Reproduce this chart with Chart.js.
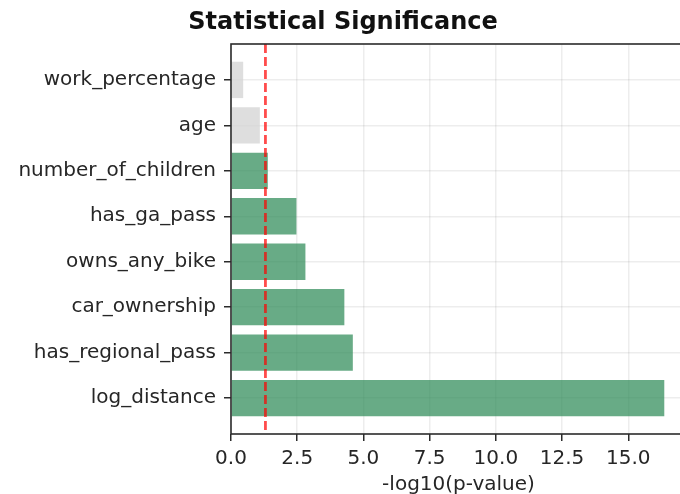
<!DOCTYPE html>
<html>
<head>
<meta charset="utf-8">
<script src="https://cdn.jsdelivr.net/npm/chart.js@4"></script>
<style>
  html, body { margin: 0; padding: 0; background: #fff; overflow: hidden; }
  #wrap { width: 700px; height: 494px; }
</style>
</head>
<body>
<div id="wrap"><canvas id="sigChart"></canvas></div>
<script>
// features, top to bottom
const features = ["work_percentage", "age", "number_of_children", "has_ga_pass",
  "owns_any_bike", "car_ownership", "has_regional_pass", "log_distance"]
// -log10(p-value) per feature
const negLogP = [0.46, 1.09, 1.39, 2.47, 2.81, 4.28, 4.60, 16.36]
const threshold = 1.30 // -log10(0.05)
const xTicks = [0, 2.5, 5, 7.5, 10, 12.5, 15]

const green = "rgba(46,139,87,0.72)"
const grey = "rgba(211,211,211,0.75)"

// spines + significance line
const frame = {
  id: "frame",
  afterDatasetsDraw(chart) {
    const { ctx, chartArea: a, scales } = chart
    const xp = scales.x.getPixelForValue(threshold)
    ctx.save()
    ctx.strokeStyle = "rgba(255,0,0,0.7)"
    ctx.lineWidth = 2.8
    ctx.setLineDash([9, 4])
    ctx.beginPath()
    ctx.moveTo(xp, a.top)
    ctx.lineTo(xp, a.bottom)
    ctx.stroke()
    ctx.restore()
  },
  afterDraw(chart) {
    const { ctx, chartArea: a } = chart
    ctx.save()
    ctx.strokeStyle = "#2b2b2b"
    ctx.lineWidth = 1.6
    ctx.strokeRect(a.left, a.top, a.right - a.left, a.bottom - a.top)
    ctx.restore()
  }
}

const gridOpts = { color: "rgba(0,0,0,0.07)", lineWidth: 1.5, tickColor: "#2b2b2b", tickLength: 7, tickWidth: 1.5, offset: false }

new Chart(document.getElementById("sigChart"), {
  type: "bar",
  data: {
    datasets: [{
      data: negLogP.map((v, i) => ({ x: v, y: i })),
      backgroundColor: negLogP.map(v => v > threshold ? green : grey),
      barPercentage: 1,
      categoryPercentage: 0.8
    }]
  },
  options: {
    indexAxis: "y",
    responsive: true,
    maintainAspectRatio: false,
    animation: false,
    layout: { padding: { left: 0, right: 14, top: 0, bottom: 0 } },
    plugins: {
      legend: { display: false },
      tooltip: { enabled: false },
      title: {
        display: true,
        text: "Statistical Significance",
        color: "#111",
        font: { family: "DejaVu Sans", size: 24, weight: "bold" },
        padding: { top: 8, bottom: 7.2 }
      }
    },
    scales: {
      x: {
        type: "linear",
        min: 0,
        max: 17.18,
        z: 1,
        afterBuildTicks: s => { s.ticks = xTicks.map(v => ({ value: v })) },
        afterFit: s => { s.height = 60 },
        border: { display: false },
        grid: gridOpts,
        ticks: {
          color: "#262626",
          font: { family: "DejaVu Sans", size: 20 },
          padding: 6,
          maxRotation: 0,
          callback: v => v.toFixed(1)
        },
        title: {
          display: true,
          text: "-log10(p-value)",
          color: "#262626",
          font: { family: "DejaVu Sans", size: 20 },
          padding: { top: 0, bottom: -3 }
        }
      },
      y: {
        type: "linear",
        reverse: true,
        offset: false,
        min: -0.79,
        max: 7.79,
        z: 1,
        afterBuildTicks: s => { s.ticks = features.map((f, i) => ({ value: i })) },
        afterFit: s => { s.width = 231 },
        border: { display: false },
        grid: gridOpts,
        ticks: {
          color: "#262626",
          font: { family: "DejaVu Sans", size: 20 },
          padding: 8,
          callback: v => features[v]
        }
      }
    }
  },
  plugins: [frame]
})
</script>
</body>
</html>
